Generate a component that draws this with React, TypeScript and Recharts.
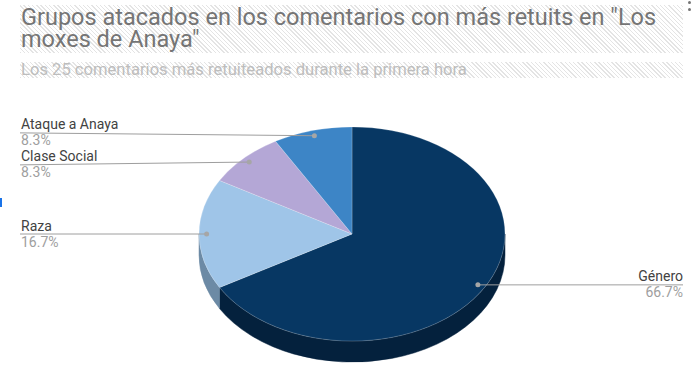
import React from 'react';
import { PieChart, Pie, Cell } from 'recharts';

const categories = ['Género', 'Raza', 'Clase Social', 'Ataque a Anaya'];
const counts = [8, 2, 1, 1];
const topColors = ['#073763', '#9fc5e8', '#b4a7d6', '#3d85c6'];
const sideColors = ['#04213d', '#6c8aa5', '#7d739f', '#2a5d8b'];

const title = ['Grupos atacados en los comentarios con más retuits en "Los', 'moxes de Anaya"'];
const subtitle = 'Los 25 comentarios más retuiteados durante la primera hora';

const data = categories.map((name, i) => ({ name, value: counts[i] }));

// fake 3D: squash the pie into an ellipse and add a front wall
const CX = 352;
const CY = 234;
const R = 153;
const TILT = 0.7;
const DEPTH = 21;
const DOT_R = 0.95;
const LABEL_LEFT = 21;
const LABEL_RIGHT = 683;
const LABEL_GAP = 32;

const pt = (cx: number, cy: number, rx: number, ry: number, deg: number) => {
  const a = (deg * Math.PI) / 180;
  return [cx + rx * Math.cos(a), cy - ry * Math.sin(a)];
};

// push labels on the same side apart so name + percent don't collide
const labelShift: Record<string, number> = (() => {
  const total = counts.reduce((s, v) => s + v, 0);
  let acc = 0;
  const items = counts.map((c, i) => {
    const s = 90 - (acc / total) * 360;
    acc += c;
    const e = 90 - (acc / total) * 360;
    const mid = (s + e) / 2;
    const y = pt(CX, CY, R * DOT_R, R * DOT_R * TILT, mid)[1];
    return { name: categories[i], left: Math.cos((mid * Math.PI) / 180) < 0, y, ly: y };
  });
  for (const side of [true, false]) {
    const group = items.filter((it) => it.left === side).sort((a, b) => a.y - b.y);
    for (let pass = 0; pass < 10; pass++) {
      for (let i = 1; i < group.length; i++) {
        if (group[i].ly - group[i - 1].ly < LABEL_GAP) {
          const m = (group[i].ly + group[i - 1].ly) / 2;
          group[i - 1].ly = m - LABEL_GAP / 2;
          group[i].ly = m + LABEL_GAP / 2;
        }
      }
    }
  }
  const out: Record<string, number> = {};
  items.forEach((it) => (out[it.name] = it.ly - it.y));
  return out;
})();

const Slice3D = (props: any) => {
  const { cx, cy, outerRadius, startAngle, endAngle, fill, name } = props;
  const rx = outerRadius;
  const ry = outerRadius * TILT;
  const side = sideColors[categories.indexOf(name)] || fill;

  const lo = Math.min(startAngle, endAngle);
  const hi = Math.max(startAngle, endAngle);
  const walls: number[][] = [];
  for (const k of [-720, -360, 0, 360]) {
    const a = Math.max(lo, -180 + k);
    const b = Math.min(hi, k);
    if (b > a) walls.push([a, b]);
  }

  const [sx, sy] = pt(cx, cy, rx, ry, startAngle);
  const [ex, ey] = pt(cx, cy, rx, ry, endAngle);
  const large = Math.abs(startAngle - endAngle) > 180 ? 1 : 0;
  const sweep = startAngle > endAngle ? 1 : 0;
  const top = `M${cx},${cy} L${sx},${sy} A${rx},${ry} 0 ${large} ${sweep} ${ex},${ey} Z`;

  return (
    <g>
      {walls.map(([a, b], i) => {
        const [ax, ay] = pt(cx, cy, rx, ry, a);
        const [bx, by] = pt(cx, cy, rx, ry, b);
        const d = `M${ax},${ay} A${rx},${ry} 0 0 0 ${bx},${by} L${bx},${by + DEPTH} A${rx},${ry} 0 0 1 ${ax},${ay + DEPTH} Z`;
        return <path key={i} d={d} fill={side} stroke={side} strokeWidth={0.5} />;
      })}
      <path d={top} fill={fill} stroke="rgba(255,255,255,0.35)" strokeWidth={0.6} />
    </g>
  );
};

const renderLabel = (props: any) => {
  const { cx, cy, midAngle, outerRadius, percent, name } = props;
  const [x, y] = pt(cx, cy, outerRadius * DOT_R, outerRadius * DOT_R * TILT, midAngle);
  const left = Math.cos((midAngle * Math.PI) / 180) < 0;
  const lx = left ? LABEL_LEFT - 1 : LABEL_RIGHT;
  const ly = y + (labelShift[name] || 0);
  const tx = left ? LABEL_LEFT : LABEL_RIGHT;
  const anchor = left ? 'start' : 'end';
  return (
    <g>
      <line x1={x} y1={y} x2={lx} y2={ly} stroke="#9e9e9e" strokeWidth={1} />
      <circle cx={x} cy={y} r={2.5} fill="#a6a6a6" />
      <text x={tx} y={ly - 3.5} textAnchor={anchor} fontSize={14} fill="#424242" fontFamily="Roboto, sans-serif">
        {name}
      </text>
      <text x={tx} y={ly + 12.5} textAnchor={anchor} fontSize={14} fill="#9e9e9e" fontFamily="Roboto, sans-serif">
        {(percent * 100).toFixed(1)}%
      </text>
    </g>
  );
};

const hatch = 'repeating-linear-gradient(45deg, #e4e4e4 0px, #e4e4e4 1px, #ffffff 1px, #ffffff 3px)';

export default function App() {
  return (
    <div
      style={{
        position: 'absolute',
        left: 0,
        top: 0,
        width: 700,
        height: 370,
        background: '#fff',
        overflow: 'hidden',
        fontFamily: 'Roboto, sans-serif',
      }}
    >
      <div style={{ position: 'absolute', left: 20, top: 5, width: 663, height: 48, background: hatch }} />
      <div style={{ position: 'absolute', left: 20, top: 62, width: 663, height: 16, background: hatch }} />
      <div
        style={{
          position: 'absolute',
          left: 21,
          top: 7,
          fontSize: 23.5,
          lineHeight: '21.5px',
          color: '#757575',
          whiteSpace: 'nowrap',
        }}
      >
        {title[0]}
        <br />
        {title[1]}
      </div>
      <div
        style={{
          position: 'absolute',
          left: 21,
          top: 62,
          fontSize: 16.6,
          lineHeight: '16px',
          color: '#bdbdbd',
          whiteSpace: 'nowrap',
        }}
      >
        {subtitle}
      </div>
      <div style={{ position: 'absolute', left: 688, top: 1, width: 3, height: 3, borderRadius: 2, background: '#757575' }} />
      <div style={{ position: 'absolute', left: 688, top: 8, width: 3, height: 3, borderRadius: 2, background: '#757575' }} />
      <div style={{ position: 'absolute', left: 0, top: 198, width: 2, height: 9, background: '#1a73e8' }} />
      <div style={{ position: 'absolute', left: 0, top: 0 }}>
        <PieChart width={700} height={370} margin={{ top: 0, right: 0, bottom: 0, left: 0 }}>
          <Pie
            data={data}
            dataKey="value"
            nameKey="name"
            cx={CX}
            cy={CY}
            outerRadius={R}
            startAngle={90}
            endAngle={-270}
            stroke="none"
            shape={Slice3D}
            label={renderLabel}
            labelLine={false}
            isAnimationActive={false}
          >
            {data.map((d, i) => (
              <Cell key={d.name} fill={topColors[i]} />
            ))}
          </Pie>
        </PieChart>
      </div>
    </div>
  );
}
